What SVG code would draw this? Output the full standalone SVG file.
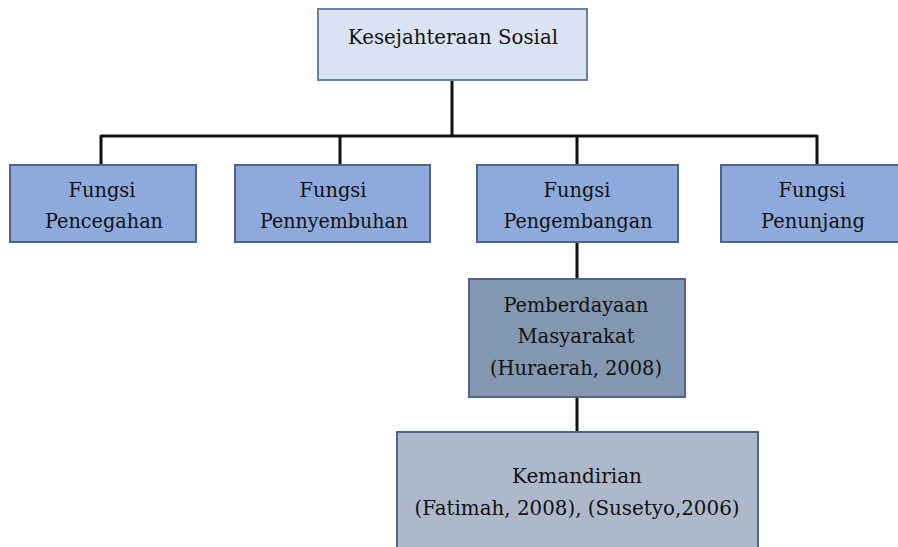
<svg xmlns="http://www.w3.org/2000/svg" width="898" height="547" viewBox="0 0 898 547">
<style>
text{font-family:"DejaVu Serif","Liberation Serif",serif;font-size:20px;fill:#111;text-anchor:middle}
.n rect{stroke:#4f6486;stroke-width:2}
.top rect{fill:#dae3f3;stroke:#6e80a0}
.f rect{fill:#8eaadc}
.p rect{fill:#8497b0}
.k rect{fill:#adb9ca}
#connectors path{fill:none;stroke:#111;stroke-width:3;stroke-linejoin:round}
</style>
<g id="connectors">
<path d="M452 80 V136 M101 165 V136 H817 V165 M340 136 V165 M577 136 V165 M577 242 V279 M577 397 V432"/>
</g>
<g id="kesejahteraan" class="n top"><rect x="318" y="9" width="269" height="71"/><text x="453" y="44" textLength="210" lengthAdjust="spacingAndGlyphs">Kesejahteraan Sosial</text></g>
<g id="pencegahan" class="n f"><rect x="10" y="165" width="186" height="77"/><text x="102" y="197" textLength="67" lengthAdjust="spacingAndGlyphs">Fungsi</text><text x="104" y="228" textLength="118" lengthAdjust="spacingAndGlyphs">Pencegahan</text></g>
<g id="penyembuhan" class="n f"><rect x="235" y="165" width="195" height="77"/><text x="333" y="197" textLength="67" lengthAdjust="spacingAndGlyphs">Fungsi</text><text x="334" y="228" textLength="148" lengthAdjust="spacingAndGlyphs">Pennyembuhan</text></g>
<g id="pengembangan" class="n f"><rect x="477" y="165" width="201" height="77"/><text x="577" y="197" textLength="67" lengthAdjust="spacingAndGlyphs">Fungsi</text><text x="578" y="228" textLength="149" lengthAdjust="spacingAndGlyphs">Pengembangan</text></g>
<g id="penunjang" class="n f"><rect x="721" y="165" width="192" height="77"/><text x="812" y="197" textLength="67" lengthAdjust="spacingAndGlyphs">Fungsi</text><text x="813" y="228" textLength="104" lengthAdjust="spacingAndGlyphs">Penunjang</text></g>
<g id="pemberdayaan" class="n p"><rect x="469" y="279" width="216" height="118"/><text x="576" y="312" textLength="145" lengthAdjust="spacingAndGlyphs">Pemberdayaan</text><text x="576" y="343" textLength="117" lengthAdjust="spacingAndGlyphs">Masyarakat</text><text x="576" y="375" textLength="172" lengthAdjust="spacingAndGlyphs">(Huraerah, 2008)</text></g>
<g id="kemandirian" class="n k"><rect x="397" y="432" width="361" height="130"/><text x="577" y="483" textLength="130" lengthAdjust="spacingAndGlyphs">Kemandirian</text><text x="577" y="515" textLength="325" lengthAdjust="spacingAndGlyphs">(Fatimah, 2008), (Susetyo,2006)</text></g>
</svg>
